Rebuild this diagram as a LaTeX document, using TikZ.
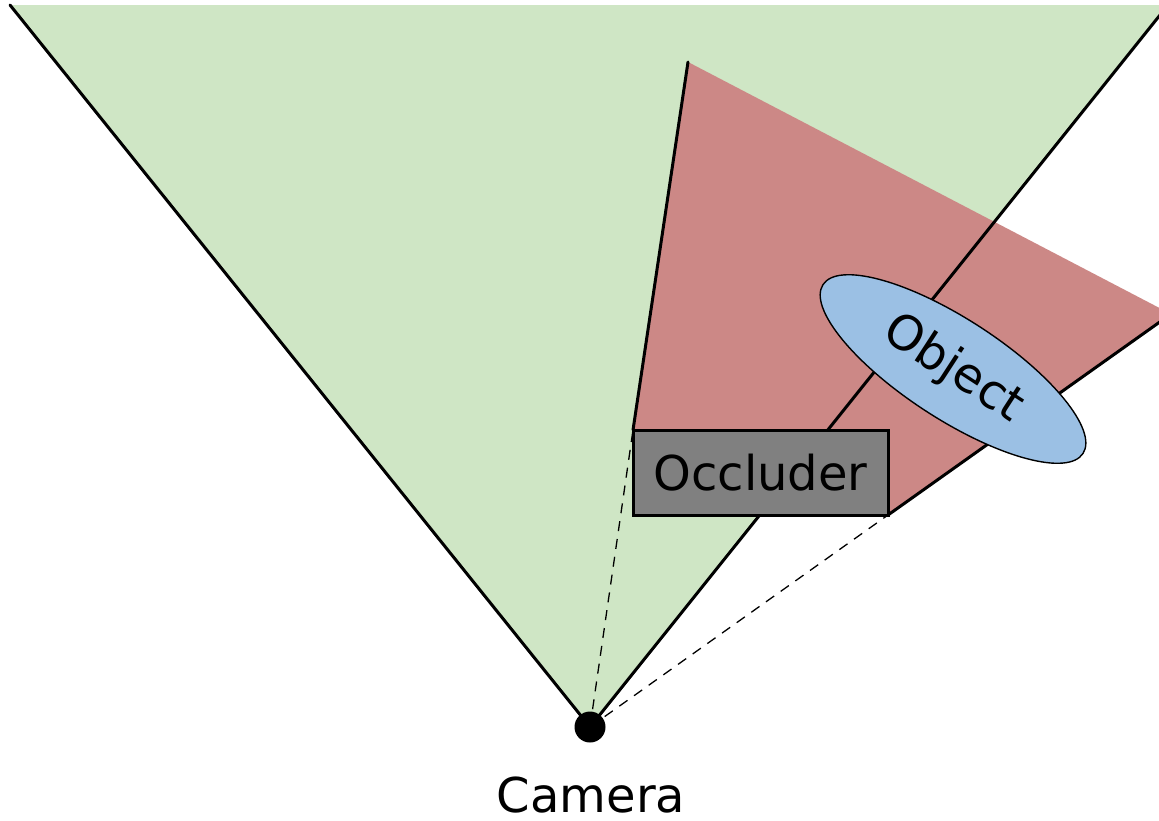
\documentclass[tikz,border=0pt]{standalone}
\usepackage{fontspec}
\setmainfont{DejaVu Sans}
\usetikzlibrary{shapes.geometric,backgrounds}
\definecolor{fovgreen}{RGB}{207,230,197}
\definecolor{shadowred}{RGB}{204,136,134}
\definecolor{objblue}{RGB}{155,192,228}
\definecolor{occgray}{RGB}{128,128,128}
\tikzset{
  edge/.style={line width=1.5pt, line cap=round},
  sightline/.style={line width=0.65pt, dash pattern=on 5pt off 4pt},
  labeltext/.style={font=\fontsize{24}{28}\selectfont},
  occluderbox/.style={draw, line width=1.5pt, fill=occgray, rectangle,
    minimum width=127.5pt, minimum height=42.5pt, inner sep=0pt, outer sep=0pt},
  objectshape/.style={draw, line width=0.7pt, fill=objblue, ellipse,
    minimum width=155pt, minimum height=50pt, inner sep=0pt, outer sep=0pt, rotate=-33},
  campoint/.style={circle, fill=black, minimum size=15.5pt, inner sep=0pt, outer sep=0pt}
}
\begin{document}
\begin{tikzpicture}[x=0.5pt,y=-0.5pt]
  \useasboundingbox (0,0) rectangle (1159,820);
  % camera, occluder, object and caption
  \node[campoint] (cam) at (590,727) {};
  \node[occluderbox, labeltext] (occ) at (760.5,472.5) {Occluder};
  \node[objectshape, labeltext] (obj) at (953,369) {Object};
  \node[labeltext, anchor=base] (camlabel) at (591,812) {Camera};
  % field of view and shadow corners
  \coordinate (fovL) at (10,5);
  \coordinate (fovR) at (1168,5);
  \coordinate (apex) at (688,62);
  \coordinate (shadowR) at (1171,314);
  \begin{pgfonlayer}{background}
    \fill[fovgreen] (fovL) -- (fovR) -- (cam.center) -- cycle;
    \fill[shadowred] (apex) -- (shadowR) -- (occ.south east) -- (occ.north west) -- cycle;
    \draw[edge] (fovL) -- (cam.center) -- (fovR);
    \draw[edge] (occ.north west) -- (apex);
    \draw[edge] (occ.south east) -- (shadowR);
    \draw[sightline] (cam.center) -- (occ.north west);
    \draw[sightline] (cam.center) -- (occ.south east);
  \end{pgfonlayer}
\end{tikzpicture}
\end{document}
